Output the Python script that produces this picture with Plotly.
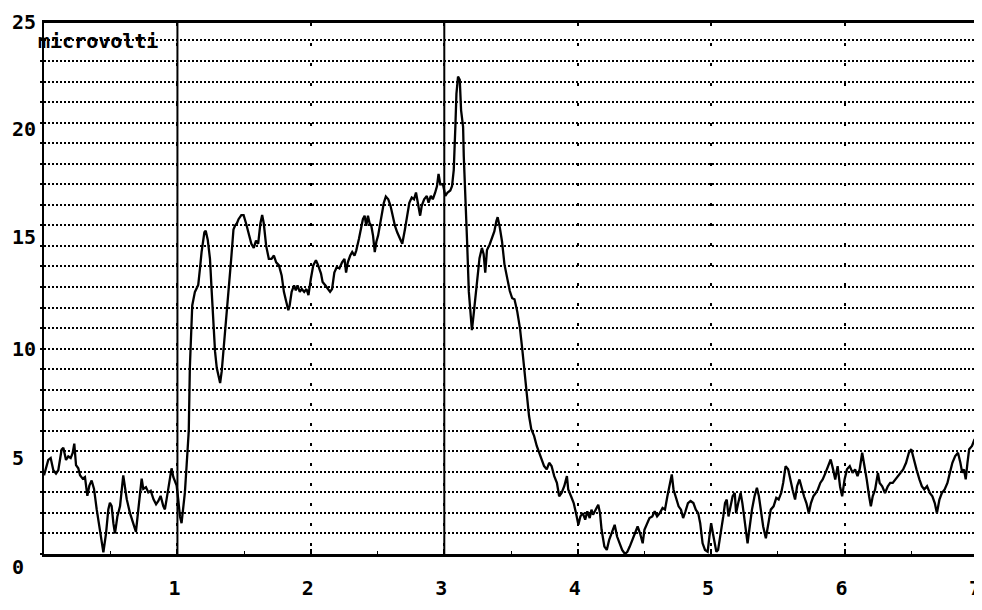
import plotly.graph_objects as go

# ---- data (time axis 0..7, amplitude in microvolts) ----
TIME = [
    0.0, 0.032, 0.05, 0.07, 0.09, 0.107, 0.132, 0.145, 0.165, 0.182,
    0.2, 0.215, 0.227, 0.24, 0.257, 0.27, 0.29, 0.307, 0.325, 0.34,
    0.357, 0.375, 0.395, 0.415, 0.432, 0.445, 0.465, 0.482, 0.494, 0.507,
    0.52, 0.532, 0.55, 0.57, 0.594, 0.607, 0.62, 0.644, 0.669, 0.689,
    0.707, 0.724, 0.732, 0.744, 0.764, 0.782, 0.8, 0.82, 0.84, 0.857,
    0.874, 0.894, 0.906, 0.919, 0.93, 0.944, 0.956, 0.969, 0.994, 1.006,
    1.019, 1.031, 1.044, 1.056, 1.069, 1.085,
    1.093, 1.111, 1.131, 1.144, 1.156, 1.169, 1.181, 1.202, 1.212, 1.227,
    1.244, 1.257, 1.27, 1.282, 1.295, 1.307, 1.32, 1.332, 1.345, 1.363,
    1.383, 1.403, 1.42, 1.433, 1.446, 1.458, 1.479, 1.496, 1.514, 1.534,
    1.554, 1.572, 1.589, 1.605, 1.622, 1.635, 1.647, 1.665, 1.685, 1.705,
    1.723, 1.74, 1.761, 1.781, 1.798, 1.816, 1.831, 1.841, 1.856, 1.874,
    1.887, 1.9, 1.917, 1.932, 1.95, 1.967, 1.982, 2.0, 2.018, 2.038,
    2.055, 2.076, 2.088, 2.108, 2.126, 2.144, 2.159, 2.176, 2.194, 2.214,
    2.234, 2.252, 2.264, 2.277, 2.295, 2.31, 2.327, 2.34, 2.36, 2.378,
    2.39, 2.403, 2.415, 2.428, 2.44, 2.453, 2.466, 2.479, 2.491, 2.504,
    2.516, 2.529, 2.547, 2.562, 2.58, 2.597, 2.612, 2.63, 2.647, 2.668,
    2.685, 2.705, 2.723, 2.738, 2.756, 2.773, 2.788, 2.806, 2.819, 2.831,
    2.849, 2.869, 2.882, 2.899, 2.914, 2.932, 2.945, 2.957, 2.97, 2.99,
    3.008, 3.025, 3.045, 3.058, 3.071, 3.083, 3.091, 3.103, 3.116, 3.126,
    3.141, 3.146, 3.159, 3.171, 3.184,
    3.207, 3.219, 3.232, 3.244, 3.264, 3.282, 3.295, 3.307, 3.32, 3.34,
    3.358, 3.375, 3.39, 3.4, 3.416, 3.433, 3.451, 3.471, 3.491, 3.509,
    3.526, 3.547, 3.567, 3.584, 3.602, 3.617, 3.635, 3.652, 3.673, 3.693,
    3.71, 3.728, 3.748, 3.768, 3.786, 3.804, 3.824, 3.844, 3.861, 3.879,
    3.899, 3.919, 3.929, 3.95, 3.97, 3.987, 4.005, 4.02, 4.038, 4.056,
    4.072, 4.09, 4.103, 4.115, 4.133, 4.154, 4.167, 4.179, 4.2, 4.218,
    4.236, 4.256, 4.277, 4.295, 4.313, 4.333, 4.354, 4.372, 4.39, 4.41,
    4.431, 4.449, 4.467, 4.487, 4.5, 4.518, 4.538, 4.559, 4.577, 4.595,
    4.615, 4.636, 4.654, 4.672, 4.687, 4.705, 4.718, 4.738, 4.756, 4.774,
    4.79, 4.808, 4.826, 4.846, 4.867, 4.885, 4.903, 4.918, 4.936, 4.954,
    4.974, 4.987, 5.0, 5.013, 5.026, 5.039, 5.052, 5.065, 5.078, 5.091,
    5.104, 5.117, 5.13, 5.143, 5.161, 5.177, 5.187, 5.203, 5.221, 5.234,
    5.247, 5.26, 5.273, 5.286, 5.306, 5.325, 5.343, 5.358, 5.377, 5.39,
    5.41, 5.429, 5.447, 5.468, 5.488, 5.506, 5.525, 5.54, 5.558, 5.577,
    5.592, 5.61, 5.629, 5.644, 5.662, 5.681, 5.696, 5.714, 5.732, 5.748,
    5.766, 5.784, 5.8, 5.818, 5.836, 5.857, 5.878, 5.896, 5.914, 5.93,
    5.948, 5.966, 5.982, 6.0, 6.018, 6.039, 6.06, 6.079, 6.097, 6.113,
    6.132, 6.15, 6.166, 6.184, 6.197, 6.211, 6.229, 6.25, 6.263, 6.282,
    6.303, 6.324, 6.342, 6.361, 6.382, 6.403, 6.421, 6.439, 6.461, 6.482,
    6.5, 6.518, 6.539, 6.561, 6.579, 6.597, 6.618, 6.639, 6.658, 6.676,
    6.692, 6.711, 6.729, 6.75, 6.771, 6.789, 6.808, 6.829, 6.85, 6.868,
    6.882, 6.895, 6.908, 6.921, 6.934, 6.955, 6.974, 6.992, 7.0,
]

MICROVOLTS = [
    3.83, 4.58, 4.67, 4.08, 3.92, 4.08, 5.08, 5.17, 4.58, 4.75,
    4.67, 4.92, 5.37, 4.33, 4.17, 3.83, 3.67, 3.75, 2.83, 3.33,
    3.58, 3.17, 2.17, 1.33, 0.67, 0.08, 1.0, 2.17, 2.5, 2.33,
    1.5, 1.0, 1.83, 2.33, 3.83, 3.33, 2.67, 2.0, 1.5, 1.08,
    2.17, 3.33, 3.67, 3.17, 3.25, 3.0, 3.08, 2.67, 2.42, 2.58,
    2.83, 2.33, 2.17, 2.67, 3.17, 3.67, 4.17, 3.75, 3.33, 2.67,
    1.83, 1.5, 2.17, 3.0, 4.33, 6.0,
    9.05, 12.1, 12.76, 12.9, 13.1, 13.9, 14.7, 15.66, 15.74, 15.3,
    14.37, 12.76, 11.15, 9.85, 9.05, 8.73, 8.32, 8.9, 9.85, 11.15,
    12.76, 14.37, 15.8, 16.0, 16.1, 16.3, 16.5, 16.5, 16.1, 15.66,
    15.1, 14.9, 15.26, 15.1, 16.1, 16.5, 16.1, 15.0, 14.37, 14.37,
    14.53, 14.2, 14.05, 13.56, 12.76, 12.27, 11.87, 12.1, 12.76, 13.08,
    12.84, 13.08, 12.76, 12.9, 12.76, 12.9, 12.6, 13.4, 14.05, 14.3,
    14.05, 13.65, 13.24, 13.08, 12.9, 12.76, 12.9, 13.7, 13.97, 13.9,
    14.2, 14.37, 13.7, 14.2, 14.53, 14.7, 14.53, 14.77, 15.34, 15.98,
    16.3, 16.47, 15.98, 16.47, 16.1, 15.98, 15.5, 14.7, 15.2, 15.5,
    15.98, 16.47, 17.1, 17.4, 17.27, 16.95, 16.47, 15.98, 15.66, 15.34,
    15.1, 15.8, 16.6, 17.1, 17.35, 17.27, 17.6, 16.95, 16.47, 16.95,
    17.27, 17.43, 17.1, 17.43, 17.27, 17.6, 17.9, 18.5, 18.0, 18.0,
    17.43, 17.6, 17.7, 17.9, 18.7, 20.8, 22.4, 23.24, 23.08, 21.6,
    20.8, 19.37, 17.6, 15.2, 12.76,
    10.9, 11.6, 12.45, 13.4, 14.4, 14.9, 14.6, 13.7, 14.8, 15.07,
    15.4, 15.7, 16.2, 16.4, 15.9, 15.2, 14.1, 13.4, 12.8, 12.45,
    12.4, 11.8, 11.0, 10.0, 8.86, 7.88, 6.73, 6.08, 5.75, 5.26,
    4.93, 4.6, 4.28, 4.12, 4.44, 4.28, 3.79, 3.46, 2.81, 2.97,
    3.3, 3.79, 3.14, 2.81, 2.48, 1.99, 1.42, 1.83, 1.99, 1.67,
    2.08, 1.75, 2.16, 1.91, 2.16, 2.4, 1.99, 1.18, 0.36, 0.2,
    0.69, 1.01, 1.42, 0.85, 0.52, 0.2, 0.0, 0.11, 0.36, 0.69,
    1.01, 1.34, 1.01, 0.52, 1.18, 1.5, 1.75, 1.83, 2.08, 1.83,
    1.99, 2.24, 2.16, 2.81, 3.3, 3.87, 3.14, 2.65, 2.32, 2.16,
    1.75, 2.08, 2.48, 2.58, 2.48, 2.16, 1.99, 1.5, 0.52, 0.2,
    0.11, 0.85, 1.5, 1.01, 0.52, 0.11, 0.2, 0.69, 1.18, 1.83,
    2.48, 2.65, 1.83, 2.32, 2.81, 2.97, 1.99, 2.48, 2.97, 2.48,
    1.83, 1.18, 0.52, 1.18, 2.16, 2.81, 3.22, 2.81, 1.83, 1.34,
    0.77, 1.5, 2.16, 2.32, 2.73, 2.65, 2.97, 3.46, 4.28, 4.12,
    3.63, 3.14, 2.65, 3.3, 3.63, 3.14, 2.81, 2.48, 1.99, 2.48,
    2.81, 2.97, 3.14, 3.46, 3.63, 3.95, 4.28, 4.6, 4.12, 3.63,
    4.28, 3.3, 2.81, 3.63, 4.12, 4.28, 3.95, 4.12, 3.79, 4.12,
    4.93, 4.28, 3.63, 2.81, 2.32, 2.81, 3.14, 3.95, 3.46, 3.3,
    2.97, 3.3, 3.46, 3.46, 3.63, 3.79, 3.95, 4.12, 4.44, 4.93,
    5.1, 4.6, 4.12, 3.63, 3.3, 3.14, 3.3, 2.97, 2.81, 2.48,
    1.99, 2.65, 2.97, 3.14, 3.46, 3.95, 4.44, 4.77, 4.93, 4.44,
    3.95, 4.12, 3.63, 4.44, 5.1, 5.26, 5.59, 5.26, 5.42,
]

assert len(TIME) == len(MICROVOLTS), (len(TIME), len(MICROVOLTS))

X_TICKS = [1, 2, 3, 4, 5, 6, 7]
X_TICK_TEXT = ["1", "2", "3", "4", "5", "6", "7"]
Y_LABELS = [0, 5, 10, 15, 20, 25]
Y_LABEL_TEXT = ["0", "5", "10", "15", "20", "25"]
Y_LABEL_SHIFT = [-13, -7, 0, 9, 14, 18]   # printer offsets of the label rows
SOLID_MARKERS = [1, 3]
UNIT_LABEL = "microvolti"

FONT = "DejaVu Sans Mono"
INK = "#000000"

fig = go.Figure()
fig.add_trace(go.Scatter(
    x=TIME, y=MICROVOLTS, mode="lines",
    line=dict(color=INK, width=2.3), hoverinfo="skip", showlegend=False,
))

for xv in SOLID_MARKERS:
    fig.add_shape(type="line", xref="x", yref="paper", x0=xv, x1=xv, y0=0, y1=1,
                  line=dict(color=INK, width=2), layer="above")

# thin printer rule above the frame
fig.add_shape(type="line", xref="paper", yref="paper", x0=-0.0064, x1=1.004,
              y0=1.030, y1=1.030, line=dict(color="#222222", width=1))

for val, txt, sh in zip(Y_LABELS, Y_LABEL_TEXT, Y_LABEL_SHIFT):
    fig.add_annotation(x=-0.035, xref="paper", xanchor="left", y=val, yref="y",
                       yanchor="middle", yshift=sh, text="<b>%s</b>" % txt,
                       showarrow=False, borderpad=0,
                       font=dict(family=FONT, size=20, color=INK))

fig.add_annotation(x=-0.0085, xref="paper", xanchor="left", y=0.993, yref="paper",
                   yanchor="top", text="<b>%s</b>" % UNIT_LABEL, showarrow=False,
                   font=dict(family=FONT, size=20, color=INK))

# the page body adds an 8px offset, so the figure is 8px smaller on each side
fig.update_layout(
    width=974, height=602,
    margin=dict(l=36, r=4, t=15, b=56),
    paper_bgcolor="white", plot_bgcolor="white",
    font=dict(family=FONT, color=INK),
    xaxis=dict(
        range=[0, 7], tickvals=X_TICKS, ticktext=["<b>%s</b>" % t for t in X_TICK_TEXT],
        ticks="inside", ticklen=5, tickwidth=2, tickcolor=INK,
        showline=True, linewidth=3, linecolor=INK, mirror=True,
        showgrid=True, gridcolor=INK, gridwidth=2, griddash="3px,17px",
        zeroline=False, tickfont=dict(family=FONT, size=20, color=INK),
        ticklabelstandoff=14, ticklabelshift=-3, ticklabeloverflow="allow",
        automargin=False,
        minor=dict(ticks="inside", ticklen=3, tickwidth=1, tickcolor=INK,
                   dtick=0.5, tick0=0, showgrid=False),
    ),
    yaxis=dict(
        range=[0, 25.85], dtick=1, tick0=0, automargin=False,
        showticklabels=False, ticks="outside", ticklen=2, tickwidth=2, tickcolor=INK,
        showline=True, linewidth=2, linecolor=INK, mirror=True,
        showgrid=True, gridcolor=INK, gridwidth=2, griddash="2px,2px",
        zeroline=False,
    ),
)

fig.write_html("out.html")
